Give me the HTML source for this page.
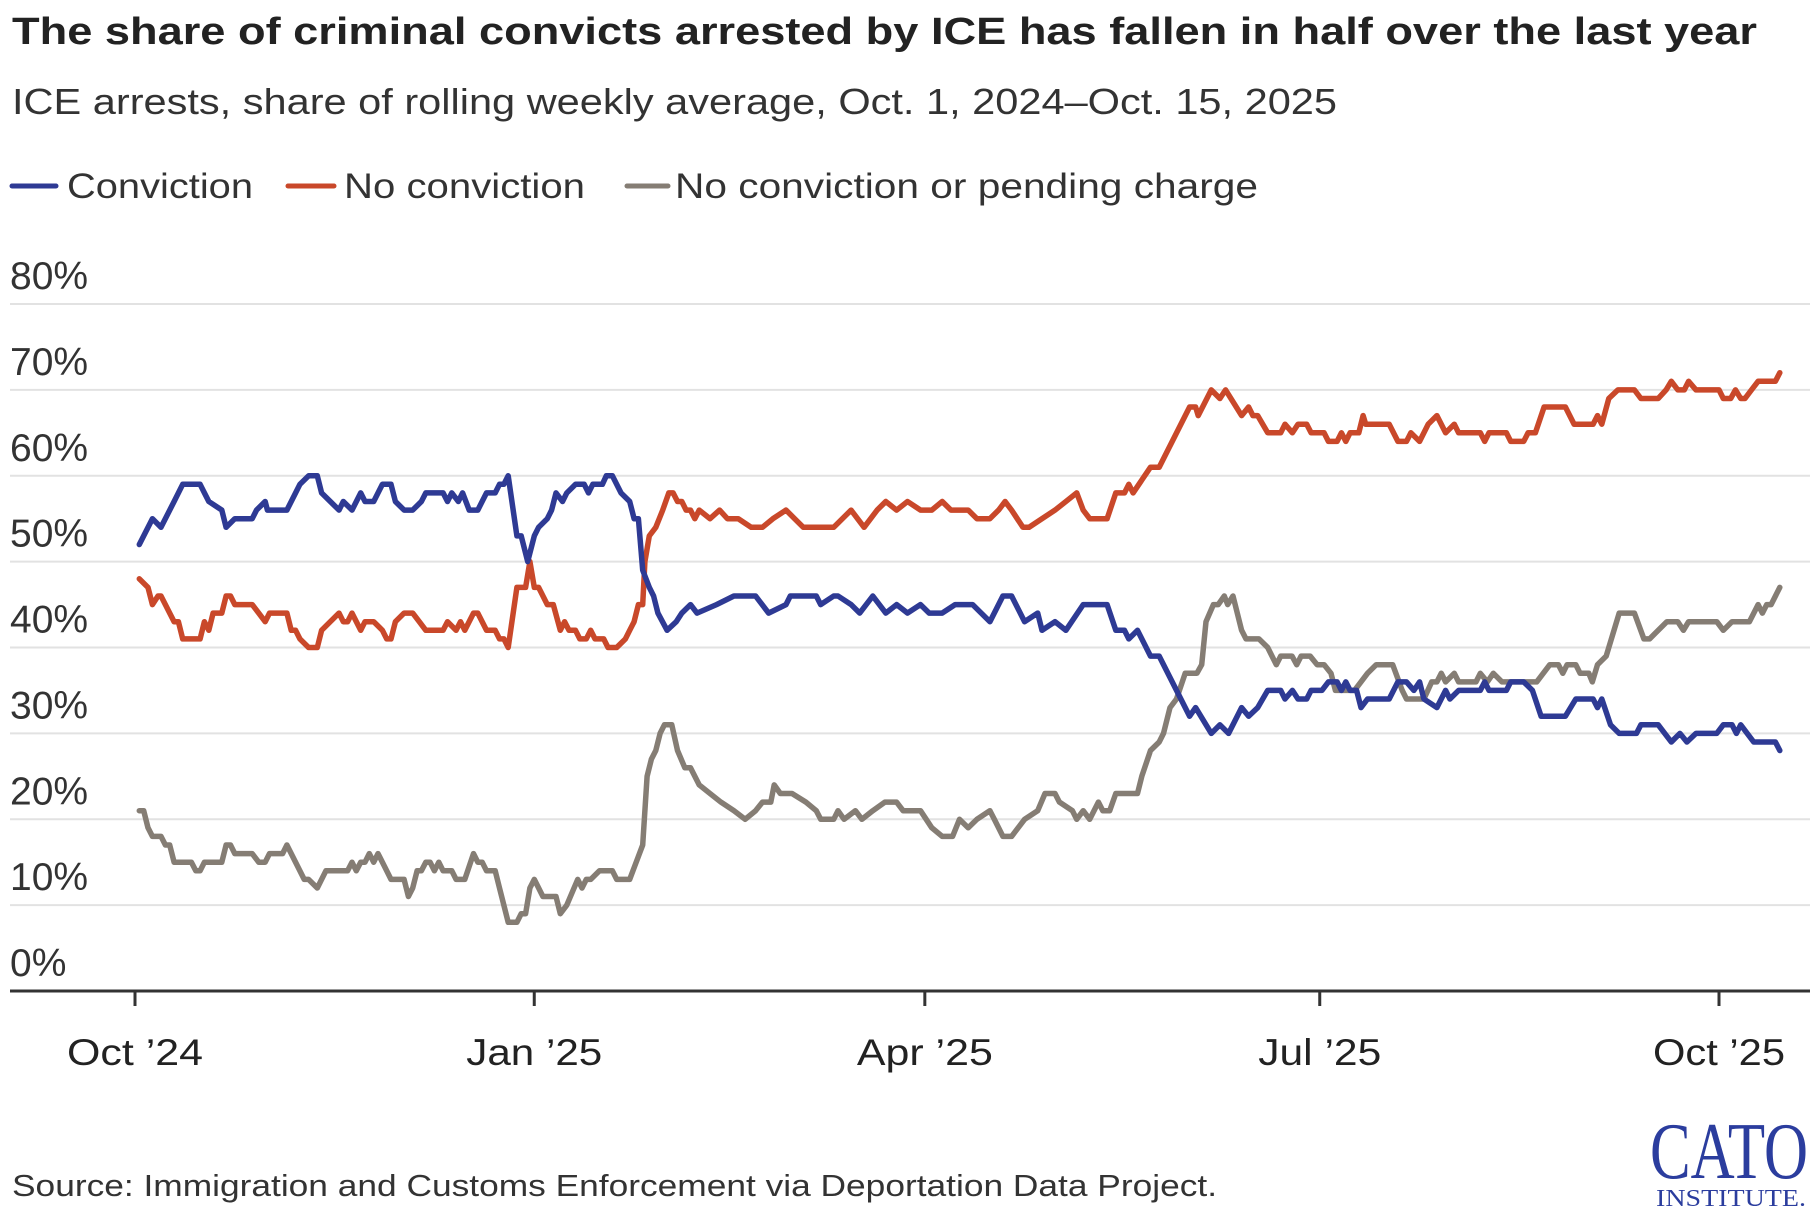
<!DOCTYPE html>
<html><head><meta charset="utf-8"><title>ICE arrests chart</title>
<style>
html,body{margin:0;padding:0;background:#fff;}
svg{display:block;font-family:"Liberation Sans",sans-serif;}
</style></head>
<body>
<svg id="chart" width="1820" height="1220" viewBox="0 0 1820 1220" xmlns="http://www.w3.org/2000/svg">
  <text x="12" y="44" font-size="38" font-weight="bold" fill="#222" textLength="1745" lengthAdjust="spacingAndGlyphs">The share of criminal convicts arrested by ICE has fallen in half over the last year</text>
  <text x="12" y="114" font-size="36" fill="#333" textLength="1325" lengthAdjust="spacingAndGlyphs">ICE arrests, share of rolling weekly average, Oct. 1, 2024–Oct. 15, 2025</text>
  <g>
    <g>
      <line x1="12" y1="186" x2="56" y2="186" stroke="#2e3a94" stroke-width="5" stroke-linecap="round"/>
      <text x="67" y="198" font-size="35" fill="#333" textLength="186" lengthAdjust="spacingAndGlyphs">Conviction</text>
    </g>
    <g>
      <line x1="288" y1="186" x2="334" y2="186" stroke="#c9482a" stroke-width="5" stroke-linecap="round"/>
      <text x="344" y="198" font-size="35" fill="#333" textLength="241" lengthAdjust="spacingAndGlyphs">No conviction</text>
    </g>
    <g>
      <line x1="627" y1="186" x2="668" y2="186" stroke="#857d74" stroke-width="5" stroke-linecap="round"/>
      <text x="675" y="198" font-size="35" fill="#333" textLength="583" lengthAdjust="spacingAndGlyphs">No conviction or pending charge</text>
    </g>
  </g>
  <g id="grid"></g>
  <g id="yaxis"></g>
  <g id="xaxis"></g>
  <g id="series"></g>
  <text x="12" y="1196" font-size="31" fill="#333" textLength="1205" lengthAdjust="spacingAndGlyphs">Source: Immigration and Customs Enforcement via Deportation Data Project.</text>
  <g>
    <text x="1650" y="1178" font-family="'Liberation Serif',serif" font-size="80" fill="#2b3d9e" textLength="158" lengthAdjust="spacingAndGlyphs">CATO</text>
    <text x="1656" y="1206" font-family="'Liberation Serif',serif" font-size="24" fill="#2b3d9e" textLength="150" lengthAdjust="spacingAndGlyphs">INSTITUTE.</text>
  </g>
</svg>
<script>
// day offsets from Oct 1, 2024
const yTicks = [0,10,20,30,40,50,60,70,80];
const yTickLabels = ["0%","10%","20%","30%","40%","50%","60%","70%","80%"];
const xTickDays = [0,92,182,273,365];
const xTickLabels = ["Oct \u201924","Jan \u201925","Apr \u201925","Jul \u201925","Oct \u201925"];

const convictionDays = [1,4,6,9,11,15,16,17,20,21,23,27,28,30,30.5,35,37,38,40,42,43,45,47,48,50,52,53,55,57,59,60,62,64,66,67,71,72,73,74.5,75.5,77,79,81,83,84,85,86,88,89,90.5,92,93,95,96,97,98.5,99.5,101.5,103.5,104.5,105.5,107.7,108.6,110,112,114,115,116,117,118.5,119.5,120.5,122.6,124.7,126,128,129.5,134,138,143,146,150,151,157,158,161,162,165,167,170,173,175.5,178,181,183,186,189,193,197,200,202,205,208,209,212,214.5,218.5,222,224,226,228,229,231,234,236,243,244.4,248,250,252,255,256.6,258.7,261,264,265,266.7,268,270,271,273.5,275,277,278,279,280,281.5,282.5,284,289,291,293,294.7,296,297,300,302,303,305,310,311,312,316,317,320,322,324,329.6,332,336,337,338,340,342,346,347,351,354,356,357.6,359.7,364.5,366,368,369,370,373,378,379];
const convictionVals = [52,55,54,57,59,59,58,57,56,54,55,55,56,57,56,56,58,59,60,60,58,57,56,57,56,58,57,57,59,59,57,56,56,57,58,58,57,58,57,58,56,56,58,58,59,59,60,53,53,50,53,54,55,56,58,57,58,59,59,58,59,59,60,60,58,57,55,55,49,47,46,44,42,43,44,45,44,45,46,46,44,45,46,46,45,46,46,45,44,46,44,45,44,45,44,44,45,45,43,46,46,43,44,42,43,42,45,45,45,42,42,41,42,39,39,32,33,30,31,30,33,32,33,35,35,34,35,34,34,35,35,36,36,35,36,35,35,33,34,34,36,36,35,36,34,33,35,34,35,35,36,35,35,36,36,35,32,32,34,34,33,34,31,30,30,31,31,29,30,29,30,30,31,31,30,31,29,29,28];

const noConvDays = [1,3,4,5.3,6,9,10,11,15,16,17,18,20,21,22,23,27,28.5,30,31,35,36,37,38,40,42,43,45,47,48,49,50,52,53,55,57,58,59,60,62,64,65.5,67,71,72,74,75,76,78,79,81,83,84,85,86,88,90,91,92,93,95,96.4,98,99,100,101.5,102.5,104,105,106,108,109,111,113,114,115,116,117,117.5,118.5,120,121.6,123,124,125,126,127,128,129,130,132.5,134.7,136.5,139,142,144.6,147,150,152,154,158,161,163,165,168,171,173,175.5,178,181,183.6,186,188,192,194,197,199,200.5,202,204.6,206,209,212,214.5,217,218.5,220,224,226,228,229,230,234,236,243,244.4,245,248,250,251.3,255,256.6,257.6,258.7,261,264,265,266.7,268,270,271,274,275,277,278,279,280,282,283,283.6,289,291,293,294,296,298,300,302,304,305,310,311,312,316,317,320,321,322.7,324.7,329.6,331.6,336,337,338,339.6,341.7,345.5,347,351,352.8,354,355.5,357,358,359.7,365,366,367.7,368.8,370,371,372.5,374,378,379];
const noConvVals = [48,47,45,46,46,43,43,41,41,43,42,44,44,46,46,45,45,44,43,44,44,42,42,41,40,40,42,43,44,43,43,44,42,43,43,42,41,41,43,44,44,43,42,42,43,42,43,42,44,44,42,42,41,41,40,47,47,50,47,47,45,45,42,43,42,42,41,41,42,41,41,40,40,41,42,43,45,45,50,53,54,56,58,58,57,57,56,56,55,56,55,56,55,55,54,54,55,56,55,54,54,54,55,56,54,56,57,56,57,56,56,57,56,56,55,55,56,57,56,54,54,55,56,57,58,56,55,55,58,58,59,58,61,61,68,68,67,70,69,70,67,68,67,67,65,65,66,65,66,66,65,65,64,64,65,64,65,65,67,66,66,64,64,65,64,66,67,65,66,65,65,64,65,65,64,64,65,65,68,68,66,66,67,66,69,70,70,69,69,70,71,70,70,71,70,70,69,69,70,69,69,70,71,71,72];

const noConvPendDays = [1,2,3,4,6,7,8,9,13,14,15,16,20,21,22,23,27,28.5,30,31,34,35,39,40,42,44,49,50,51,52,53,54,55,56,57,59,62,63,64,65,66,67,68,69,70,71,73,74,76,78,79,80,81,83,84,86,88,89,90,91,92,94,97,98,99.5,102,103,104,105,107,110,111,114,115.5,117,118,119,120,121,122,123.7,125,126.7,128,130,132.5,135,138,140.6,143,144.6,146.5,147.3,148.7,151.4,154.6,157,158,161,162,163.4,166,167.5,170,172.8,175.5,177,181,183.6,186,188.4,190,192,194,197,198,200,202,205,208,209.7,212,213,216,217,218.5,220,222,223,224.6,226,231,232,234,236,237,238.5,240,242,244.7,245.8,246.8,248.5,249.6,251,251.8,253,255,256,259,261,263,264,266.6,267.7,268.7,270.8,272.4,274,275.6,276.6,281,284,286,289.8,292,293,297,298.8,300,301,302,304,305,309,310,311.6,313,315,323,326,328,329,330,332,333,335,335.8,337,339,342,345.5,347.7,349,351,353,355.5,356.8,358,364.5,366,368,372,374,375,376,377,379];
const noConvPendVals = [21,21,19,18,18,17,17,15,15,14,14,15,15,17,17,16,16,15,15,16,16,17,13,13,12,14,14,15,14,15,15,16,15,16,15,13,13,11,12,14,14,15,15,14,15,14,14,13,13,16,15,15,14,14,12,8,8,9,9,12,13,11,11,9,10,13,12,13,13,14,14,13,13,15,17,25,27,28,30,31,31,28,26,26,24,23,22,21,20,21,22,22,24,23,23,22,21,20,20,21,20,21,20,21,22,22,21,21,19,18,18,20,19,20,21,20,18,18,20,21,23,23,22,21,20,21,20,22,21,21,23,23,25,28,29,30,33,34,37,37,38,43,45,45,46,45,46,42,41,41,40,38,39,39,38,39,39,38,38,37,35,35,37,38,38,35,34,34,36,36,37,36,37,36,36,37,36,37,36,36,38,38,37,38,38,37,37,36,38,39,44,44,41,41,42,43,43,42,43,43,42,43,43,45,44,45,45,47];

const xLabelWidths = [136,136,136,123,132];

const NS = "http://www.w3.org/2000/svg";
const X0 = 135, X1 = 1719, Y0 = 991, Y80 = 304;
function xScale(d){ return X0 + d * (X1 - X0) / 365; }
function yScale(v){ return Y0 - v * (Y0 - Y80) / 80; }
function mk(tag, attrs, parent){ const e = document.createElementNS(NS, tag); for (const k in attrs) e.setAttribute(k, attrs[k]); parent.appendChild(e); return e; }

const grid = document.getElementById('grid');
const yaxis = document.getElementById('yaxis');
yTicks.forEach((t, i) => {
  const y = yScale(t);
  if (t > 0) {
    const gl = mk('line', {x1: 10, x2: 1810, y1: y, y2: y, stroke: '#e2e2e2', 'stroke-width': 2}, grid);
    
    
  }
  const lb = mk('text', {x: 10, y: y - 15, 'font-size': 39, fill: '#333'}, yaxis);
  lb.textContent = yTickLabels[i];
  
  
});

const xaxis = document.getElementById('xaxis');
const axl = mk('line', {x1: 10, x2: 1810, y1: Y0, y2: Y0, stroke: '#333', 'stroke-width': 3}, xaxis);


xTickDays.forEach((d, i) => {
  const x = xScale(d);
  const tk = mk('line', {x1: x, x2: x, y1: Y0, y2: Y0 + 15, stroke: '#333', 'stroke-width': 3}, xaxis);
  
  
  const lb = mk('text', {x: x, y: 1065, 'font-size': 37, fill: '#222', 'text-anchor': 'middle', textLength: xLabelWidths[i], lengthAdjust: 'spacingAndGlyphs'}, xaxis);
  lb.textContent = xTickLabels[i];
  
  
});

const series = document.getElementById('series');
function drawLine(days, vals, color, name){
  const pts = days.map((d, i) => xScale(d).toFixed(1) + ',' + yScale(vals[i]).toFixed(1)).join(' ');
  const pl = mk('polyline', {points: pts, fill: 'none', stroke: color, 'stroke-width': 5.5, 'stroke-linejoin': 'round', 'stroke-linecap': 'round'}, series);
  
  
}
drawLine(noConvPendDays, noConvPendVals, '#857d74', 'line-no-conviction-or-pending');
drawLine(noConvDays, noConvVals, '#c9482a', 'line-no-conviction');
drawLine(convictionDays, convictionVals, '#2e3a94', 'line-conviction');
</script>
</body></html>
